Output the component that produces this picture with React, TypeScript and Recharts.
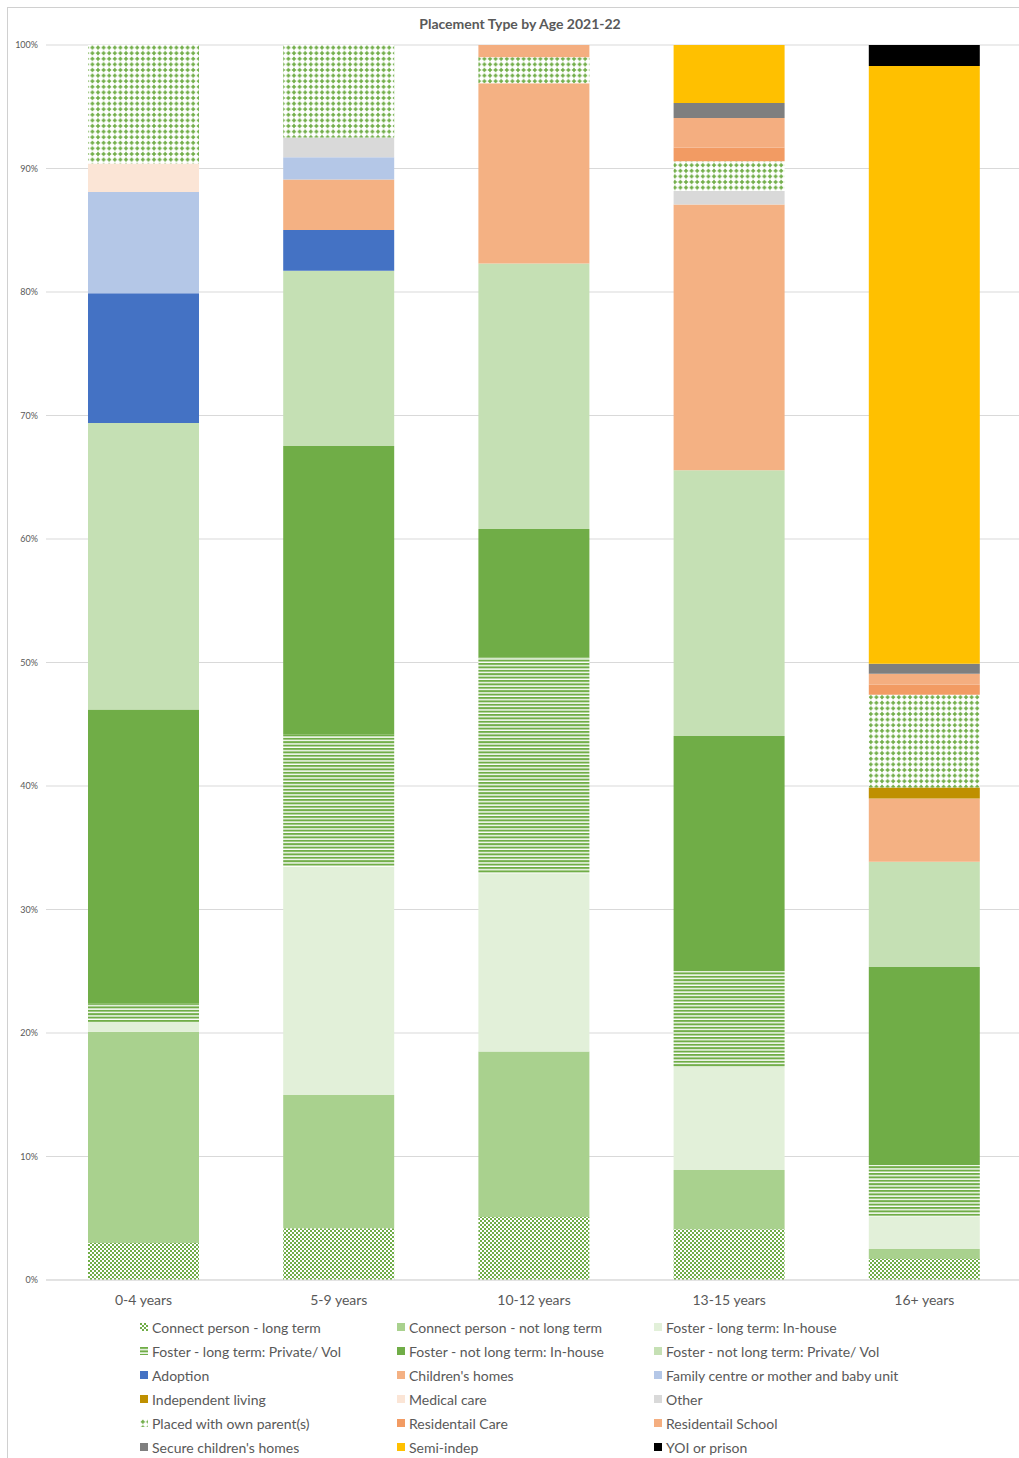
import { BarChart, Bar, XAxis, YAxis, CartesianGrid } from 'recharts';

const ageGroups = ['0-4 years', '5-9 years', '10-12 years', '13-15 years', '16+ years'];

// percentage of placements in each age group
const connectLongTerm = [3.0, 4.2, 5.1, 4.1, 1.7];
const connectNotLongTerm = [17.1, 10.8, 13.4, 4.8, 0.8];
const fosterLongInHouse = [0.8, 18.5, 14.4, 8.3, 2.6];
const fosterLongPrivate = [1.5, 10.7, 17.5, 7.8, 4.2];
const fosterNotLongInHouse = [23.8, 23.4, 10.4, 19.0, 16.0];
const fosterNotLongPrivate = [23.2, 14.2, 21.5, 21.5, 8.5];
const adoption = [10.5, 3.3, 0, 0, 0];
const childrensHomes = [0, 4.1, 14.6, 21.5, 5.1];
const familyCentre = [8.2, 1.8, 0, 0, 0];
const independentLiving = [0, 0, 0, 0, 0.9];
const medicalCare = [2.3, 0, 0, 0, 0];
const other = [0, 1.6, 0, 1.1, 0];
const ownParents = [9.6, 7.5, 2.1, 2.4, 7.5];
const residentialCare = [0, 0, 0, 1.1, 0.8];
const residentialSchool = [0, 0, 1.0, 2.4, 0.9];
const secureHomes = [0, 0, 0, 1.2, 0.8];
const semiIndep = [0, 0, 0, 4.7, 48.3];
const yoiPrison = [0, 0, 0, 0, 1.7];

const yTicks = [0, 0.1, 0.2, 0.3, 0.4, 0.5, 0.6, 0.7, 0.8, 0.9, 1];

const series = [
  { key: 'cpLong', name: 'Connect person - long term', values: connectLongTerm, fill: 'url(#checker)' },
  { key: 'cpNot', name: 'Connect person - not long term', values: connectNotLongTerm, fill: '#A9D18E' },
  { key: 'flIn', name: 'Foster - long term: In-house', values: fosterLongInHouse, fill: '#E2F0D9' },
  { key: 'flPriv', name: 'Foster - long term: Private/ Vol', values: fosterLongPrivate, fill: 'url(#hlines)' },
  { key: 'fnIn', name: 'Foster - not long term: In-house', values: fosterNotLongInHouse, fill: '#70AD47' },
  { key: 'fnPriv', name: 'Foster - not long term: Private/ Vol', values: fosterNotLongPrivate, fill: '#C5E0B4' },
  { key: 'adopt', name: 'Adoption', values: adoption, fill: '#4472C4' },
  { key: 'chHomes', name: "Children's homes", values: childrensHomes, fill: '#F4B183' },
  { key: 'family', name: 'Family centre or mother and baby unit', values: familyCentre, fill: '#B4C7E7' },
  { key: 'indep', name: 'Independent living', values: independentLiving, fill: '#BF9000' },
  { key: 'medical', name: 'Medical care', values: medicalCare, fill: '#FBE5D6' },
  { key: 'other', name: 'Other', values: other, fill: '#D9D9D9' },
  { key: 'parents', name: 'Placed with own parent(s)', values: ownParents, fill: 'url(#dots)' },
  { key: 'resCare', name: 'Residentail Care', values: residentialCare, fill: '#F29B63' },
  { key: 'resSchool', name: 'Residentail School', values: residentialSchool, fill: '#F4AE80' },
  { key: 'secure', name: "Secure children's homes", values: secureHomes, fill: '#7F7F7F' },
  { key: 'semi', name: 'Semi-indep', values: semiIndep, fill: '#FFC000' },
  { key: 'yoi', name: 'YOI or prison', values: yoiPrison, fill: '#000000' },
];

const data = ageGroups.map((age, i) => {
  const row: Record<string, string | number> = { age };
  series.forEach((s) => { row[s.key] = s.values[i]; });
  return row;
});

const textGrey = '#595959';
const font = 'Lato, "Open Sans", sans-serif';

function Patterns() {
  return (
    <defs>
      <pattern id="checker" width="4" height="4" patternUnits="userSpaceOnUse">
        <rect width="4" height="4" fill="#fff" />
        <rect width="2" height="2" fill="#70AD47" />
        <rect x="2" y="2" width="2" height="2" fill="#70AD47" />
      </pattern>
      <pattern id="hlines" width="4" height="3.4" patternUnits="userSpaceOnUse">
        <rect width="4" height="3.4" fill="#fff" />
        <rect width="4" height="2" fill="#70AD47" />
      </pattern>
      <pattern id="dots" width="5.6" height="5.6" patternUnits="userSpaceOnUse">
        <rect width="5.6" height="5.6" fill="#fff" />
        <rect x="2" y="0.8" width="1.6" height="4" fill="#70AD47" />
        <rect x="0.8" y="2" width="4" height="1.6" fill="#70AD47" />
      </pattern>
    </defs>
  );
}

export default function App() {
  return (
    <div style={{ position: 'absolute', left: 0, top: 0, width: 1019, height: 1458, overflow: 'hidden', background: '#fff', fontFamily: font }}>
      <div style={{ position: 'absolute', left: 7, top: 7, width: 1100, height: 1500, borderLeft: '1px solid #D0D0D0', borderTop: '1px solid #D0D0D0' }} />
      <div style={{ position: 'absolute', left: 0, top: 15, width: 1040, textAlign: 'center', fontSize: 14, fontWeight: 700, color: textGrey }}>
        Placement Type by Age 2021-22
      </div>
      <div style={{ position: 'absolute', left: 0, top: 0 }}>
        <BarChart
          width={1030}
          height={1312}
          data={data}
          stackOffset="expand"
          barSize={111}
          margin={{ top: 45, right: 8, bottom: 0, left: 0 }}
        >
          <Patterns />
          <CartesianGrid vertical={false} stroke="#D9D9D9" />
          <XAxis
            dataKey="age"
            height={32}
            tickLine={false}
            axisLine={{ stroke: '#D9D9D9' }}
            tick={{ fill: textGrey, fontSize: 14, fontFamily: font }}
            tickMargin={9}
          />
          <YAxis
            width={46}
            domain={[0, 1]}
            ticks={yTicks}
            tickFormatter={(v: number) => `${Math.round(v * 100)}%`}
            axisLine={false}
            tickLine={false}
            tick={{ fill: textGrey, fontSize: 9, fontFamily: font }}
          />
          {series.map((s) => (
            <Bar key={s.key} dataKey={s.key} name={s.name} stackId="a" fill={s.fill} isAnimationActive={false} />
          ))}
        </BarChart>
      </div>
      <div style={{ position: 'absolute', left: 0, top: 1317, width: 1019 }}>
        {series.map((s, i) => {
          const col = i % 3;
          const row = Math.floor(i / 3);
          const left = [140, 397, 654][col];
          return (
            <div key={s.key} style={{ position: 'absolute', left, top: row * 24, display: 'flex', alignItems: 'center', height: 20, whiteSpace: 'nowrap', fontSize: 14, color: textGrey }}>
              <svg width={8} height={8} style={{ marginRight: 4 }}>
                <rect width={8} height={8} fill={s.fill} />
              </svg>
              {s.name}
            </div>
          );
        })}
      </div>
    </div>
  );
}
